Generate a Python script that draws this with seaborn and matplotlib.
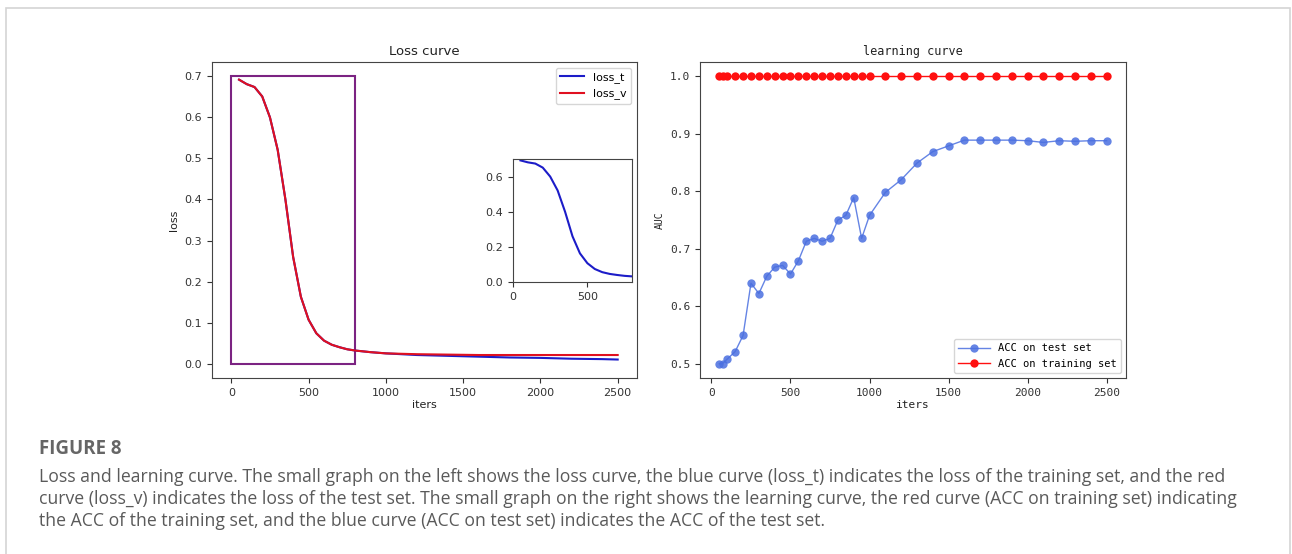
import matplotlib
matplotlib.use('Agg')
import pandas as pd
import seaborn as sns
import matplotlib.pyplot as plt
from matplotlib.patches import Rectangle

# Loss curve data
iters_loss = [50, 100, 150, 200, 250, 300, 350, 400, 450, 500, 550, 600, 650, 700, 750, 800,
              900, 1000, 1200, 1400, 1600, 1800, 2000, 2200, 2400, 2500]
loss_t = [0.692, 0.681, 0.674, 0.651, 0.600, 0.521, 0.400, 0.260, 0.163, 0.107, 0.074, 0.056, 0.046,
          0.040, 0.035, 0.032, 0.028, 0.025, 0.021, 0.019, 0.017, 0.015, 0.014, 0.012, 0.011, 0.010]
loss_v = [0.692, 0.681, 0.674, 0.651, 0.600, 0.521, 0.400, 0.260, 0.163, 0.107, 0.074, 0.056, 0.046,
          0.040, 0.035, 0.032, 0.028, 0.025, 0.023, 0.022, 0.021, 0.021, 0.021, 0.021, 0.021, 0.021]

# Learning curve data
iters_acc = [50, 70, 100, 150, 200, 250, 300, 350, 400, 450, 500, 550, 600, 650, 700, 750, 800,
             850, 900, 950, 1000, 1100, 1200, 1300, 1400, 1500, 1600, 1700, 1800, 1900, 2000,
             2100, 2200, 2300, 2400, 2500]
acc_test = [0.500, 0.500, 0.508, 0.521, 0.549, 0.640, 0.622, 0.652, 0.668, 0.671, 0.656, 0.679,
            0.713, 0.718, 0.713, 0.718, 0.750, 0.758, 0.789, 0.718, 0.758, 0.798, 0.820, 0.849,
            0.869, 0.879, 0.889, 0.889, 0.889, 0.889, 0.888, 0.885, 0.888, 0.887, 0.888, 0.888]
acc_train = [1.0] * len(iters_acc)

caption_title = 'FIGURE 8'
caption_lines = [
    'Loss and learning curve. The small graph on the left shows the loss curve, the blue curve (loss_t) indicates the loss of the training set, and the red',
    'curve (loss_v) indicates the loss of the test set. The small graph on the right shows the learning curve, the red curve (ACC on training set) indicating',
    'the ACC of the training set, and the blue curve (ACC on test set) indicates the ACC of the test set.',
]

loss_df = pd.DataFrame({'iters': iters_loss, 'loss_t': loss_t, 'loss_v': loss_v})
acc_df = pd.DataFrame({'iters': iters_acc, 'test': acc_test, 'train': acc_train})

plt.rcParams['font.family'] = ['DejaVu Sans']
plt.rcParams['axes.edgecolor'] = '#444444'
plt.rcParams['xtick.color'] = '#333333'
plt.rcParams['ytick.color'] = '#333333'

fig = plt.figure(figsize=(12.92, 5.54), dpi=100)

# outer frame
fig.patches.append(Rectangle((6 / 1292, -0.1), 1284 / 1292, 1.1 - 8 / 554, transform=fig.transFigure,
                             fill=False, edgecolor='#d4d4d4', lw=1.2))

# Loss curve
ax1 = fig.add_axes([212 / 1292, 1 - 378 / 554, 425 / 1292, 316 / 554])
ax1.add_patch(Rectangle((0, 0), 800, 0.7, fill=False, edgecolor='#7b2382', lw=1.5))
sns.lineplot(data=loss_df, x='iters', y='loss_t', ax=ax1, color='#1c1cc8', lw=1.5, label='loss_t')
sns.lineplot(data=loss_df, x='iters', y='loss_v', ax=ax1, color='#e01020', lw=1.5, label='loss_v')
ax1.set_title('Loss curve', fontsize=9.5, color='#222222', pad=5)
ax1.set_xlabel('iters', fontsize=8, color='#222222', labelpad=2)
ax1.set_ylabel('loss', fontsize=8, color='#222222')
ax1.set_xticks([0, 500, 1000, 1500, 2000, 2500])
ax1.tick_params(labelsize=8)
ax1.legend(loc='upper right', fontsize=8, handlelength=2.2)

# inset
axin = fig.add_axes([513 / 1292, 1 - 282 / 554, 119 / 1292, 123 / 554])
sns.lineplot(data=loss_df, x='iters', y='loss_t', ax=axin, color='#1c1cc8', lw=1.5)
axin.set_xlim(0, 800)
axin.set_ylim(0, 0.7)
axin.set_xticks([0, 500])
axin.set_yticks([0.0, 0.2, 0.4, 0.6])
axin.set_xlabel('')
axin.set_ylabel('')
axin.tick_params(labelsize=8)

# Learning curve
mono = ['DejaVu Sans Mono']
ax2 = fig.add_axes([700 / 1292, 1 - 378 / 554, 426 / 1292, 316 / 554])
sns.lineplot(data=acc_df, x='iters', y='test', ax=ax2, color='#4a6fe0', lw=1, alpha=0.85,
             marker='o', markersize=6, markeredgewidth=0, label='ACC on test set')
sns.lineplot(data=acc_df, x='iters', y='train', ax=ax2, color='#ff1010', lw=1,
             marker='o', markersize=6, markeredgewidth=0, label='ACC on training set')
ax2.set_title('learning curve', fontsize=8.5, family=mono, color='#222222', pad=5)
ax2.set_xlabel('iters', fontsize=8, family=mono, color='#222222', labelpad=2)
ax2.set_ylabel('AUC', fontsize=7, family=mono, color='#222222')
ax2.set_xticks([0, 500, 1000, 1500, 2000, 2500])
ax2.set_yticks([0.5, 0.6, 0.7, 0.8, 0.9, 1.0])
ax2.tick_params(labelsize=8)
for lab in ax2.get_xticklabels() + ax2.get_yticklabels():
    lab.set_family(mono)
ax2.legend(loc='lower right', prop={'family': mono, 'size': 7.5}, handlelength=3)

# caption
fig.text(39 / 1292, 1 - 449 / 554, caption_title, fontsize=13.5, fontweight='bold', color='#666666',
         family=['Open Sans', 'DejaVu Sans'], va='center')
for i, line in enumerate(caption_lines):
    fig.text(39 / 1292, 1 - (477 + 22 * i) / 554, line, fontsize=12.7, color='#5a5a5a',
             family=['Open Sans', 'DejaVu Sans'], va='center')

fig.savefig('out.png', dpi=100)
